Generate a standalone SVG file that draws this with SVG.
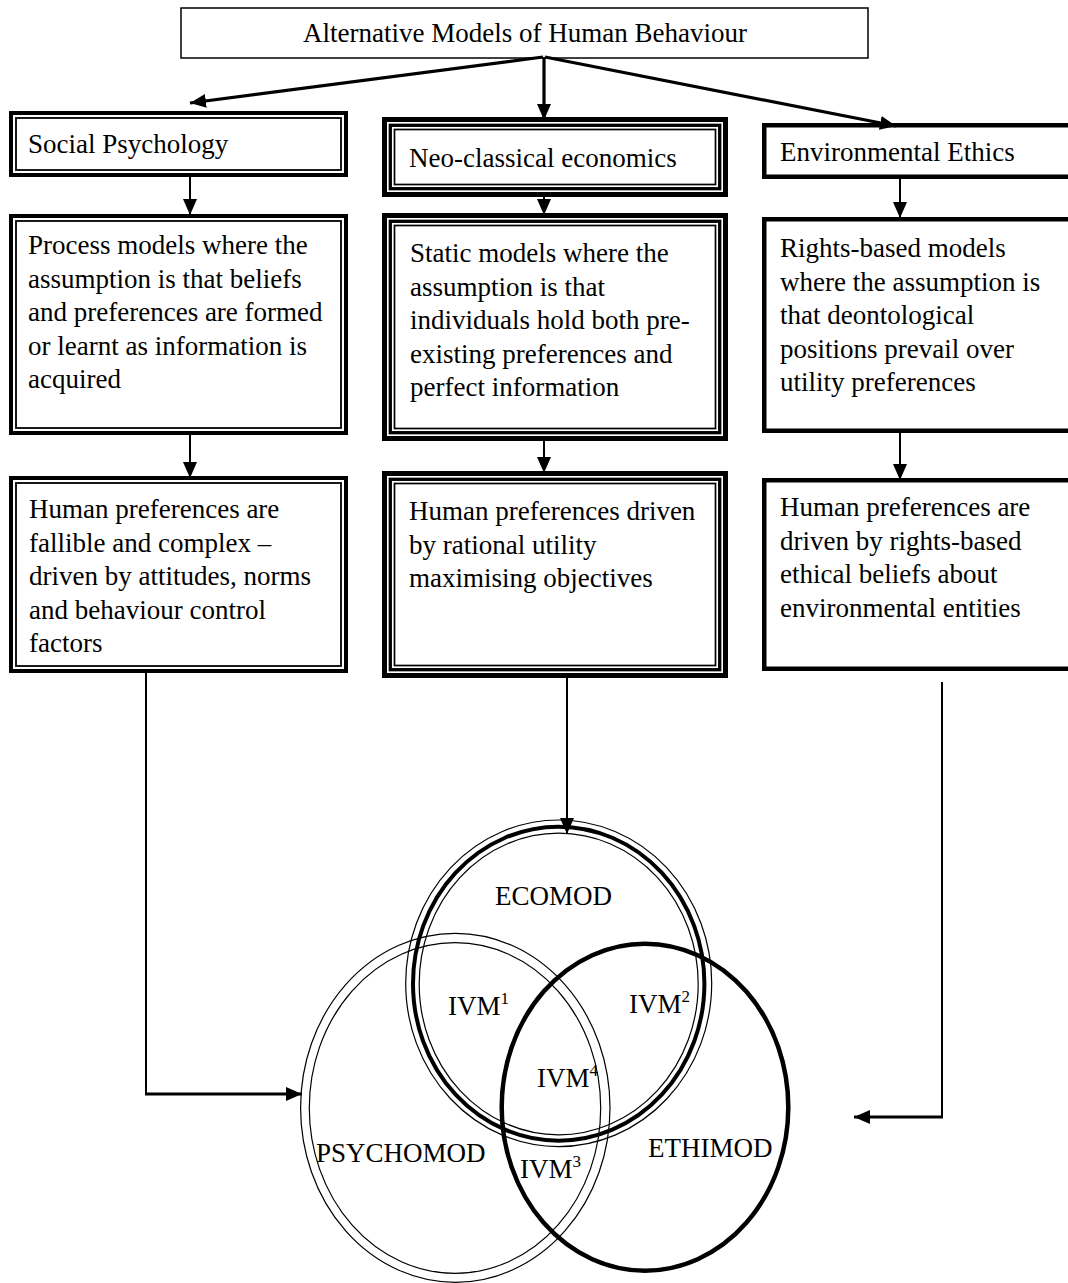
<svg xmlns="http://www.w3.org/2000/svg" width="1068" height="1283" viewBox="0 0 1068 1283">
<style>
text{font-family:"Liberation Serif","Times New Roman",serif;font-size:27px;fill:#000}
.sup{font-size:17px}
.b{fill:#fff;stroke:#000}
.n{fill:none;stroke:#000}
.c{fill:none;stroke:#000;stroke-width:2}
.c3{fill:none;stroke:#000;stroke-width:3.2}
</style>
<defs>
<marker id="ah" markerUnits="userSpaceOnUse" markerWidth="16" markerHeight="14" refX="16" refY="7" orient="auto" viewBox="0 0 16 14">
<path d="M0,0 L16,7 L0,14 z" fill="#000"/>
</marker>
</defs>
<rect x="0" y="0" width="1068" height="1283" fill="#fff"/>

<g id="title">
<rect class="b" x="181" y="8" width="687" height="50" stroke-width="1.5"/>
<text x="303" y="42">Alternative Models of Human Behaviour</text>
</g>

<g id="social-psychology">
<rect class="b" x="11" y="113" width="335" height="62" stroke-width="4"/>
<rect class="n" x="16" y="118" width="325" height="52" stroke-width="1.8"/>
<text x="28" y="153">Social Psychology</text>
</g>
<g id="neo-classical">
<rect class="b" x="384.5" y="119.5" width="341" height="75" stroke-width="5"/>
<rect class="n" x="390.3" y="125.3" width="329.4" height="63.4" stroke-width="3.3"/>
<rect class="n" x="394.5" y="129.5" width="321" height="55" stroke-width="1.7"/>
<text x="409" y="167">Neo-classical economics</text>
</g>
<g id="environmental-ethics">
<rect class="b" x="764.25" y="125.25" width="320" height="51.5" stroke-width="4.5"/>
<text x="780" y="161">Environmental Ethics</text>
</g>

<g id="process-models">
<rect class="b" x="11" y="216" width="335" height="217" stroke-width="4"/>
<rect class="n" x="16" y="221" width="325" height="207" stroke-width="1.8"/>
<text x="28" y="254">Process models where the</text>
<text x="28" y="287.5">assumption is that beliefs</text>
<text x="28" y="321">and preferences are formed</text>
<text x="28" y="354.5">or learnt as information is</text>
<text x="28" y="388">acquired</text>
</g>
<g id="static-models">
<rect class="b" x="384.5" y="215.5" width="341" height="223" stroke-width="5"/>
<rect class="n" x="390.3" y="221.3" width="329.4" height="211.4" stroke-width="3.3"/>
<rect class="n" x="394.5" y="225.5" width="321" height="203" stroke-width="1.7"/>
<text x="410" y="262">Static models where the</text>
<text x="410" y="295.5">assumption is that</text>
<text x="410" y="329">individuals hold both pre-</text>
<text x="410" y="362.5">existing preferences and</text>
<text x="410" y="396">perfect information</text>
</g>
<g id="rights-based-models">
<rect class="b" x="764.25" y="219.25" width="320" height="211.5" stroke-width="4.5"/>
<text x="780" y="257">Rights-based models</text>
<text x="780" y="290.5">where the assumption is</text>
<text x="780" y="324">that deontological</text>
<text x="780" y="357.5">positions prevail over</text>
<text x="780" y="391">utility preferences</text>
</g>

<g id="fallible-preferences">
<rect class="b" x="11" y="478" width="335" height="193" stroke-width="4"/>
<rect class="n" x="16" y="483" width="325" height="183" stroke-width="1.8"/>
<text x="29" y="518">Human preferences are</text>
<text x="29" y="551.5">fallible and complex –</text>
<text x="29" y="585">driven by attitudes, norms</text>
<text x="29" y="618.5">and behaviour control</text>
<text x="29" y="652">factors</text>
</g>
<g id="rational-preferences">
<rect class="b" x="384.5" y="473.5" width="341" height="202" stroke-width="5"/>
<rect class="n" x="390.3" y="479.3" width="329.4" height="190.4" stroke-width="3.3"/>
<rect class="n" x="394.5" y="483.5" width="321" height="182" stroke-width="1.7"/>
<text x="409" y="520">Human preferences driven</text>
<text x="409" y="553.5">by rational utility</text>
<text x="409" y="587">maximising objectives</text>
</g>
<g id="rights-preferences">
<rect class="b" x="764.25" y="480.25" width="320" height="188.5" stroke-width="4.5"/>
<text x="780" y="516">Human preferences are</text>
<text x="780" y="549.5">driven by rights-based</text>
<text x="780" y="583">ethical beliefs about</text>
<text x="780" y="616.5">environmental entities</text>
</g>

<g id="connectors">
<line class="c3" x1="543" y1="57" x2="190" y2="103" marker-end="url(#ah)"/>
<line class="c3" x1="544" y1="57" x2="544" y2="120" marker-end="url(#ah)"/>
<line class="c3" x1="545" y1="57" x2="896" y2="126" marker-end="url(#ah)"/>
<line class="c" x1="190" y1="177" x2="190" y2="215" marker-end="url(#ah)"/>
<line class="c" x1="544" y1="197" x2="544" y2="215" marker-end="url(#ah)"/>
<line class="c" x1="900" y1="179" x2="900" y2="218" marker-end="url(#ah)"/>
<line class="c" x1="190" y1="435" x2="190" y2="478" marker-end="url(#ah)"/>
<line class="c" x1="544" y1="441" x2="544" y2="473" marker-end="url(#ah)"/>
<line class="c" x1="900" y1="433" x2="900" y2="480" marker-end="url(#ah)"/>
<polyline class="c" points="146,673 146,1094"/>
<line class="c3" x1="145" y1="1094" x2="302" y2="1094" marker-end="url(#ah)"/>
<line class="c" x1="567" y1="678" x2="567" y2="834" marker-end="url(#ah)"/>
<polyline class="c" points="942,682 942,1117"/>
<line class="c3" x1="943" y1="1117" x2="854" y2="1117" marker-end="url(#ah)"/>
</g>

<g id="ecomod">
<ellipse class="n" cx="558.7" cy="983.3" rx="153" ry="163.3" stroke-width="1.2"/>
<ellipse class="n" cx="558.7" cy="983.7" rx="145.7" ry="157" stroke-width="4"/>
<ellipse class="n" cx="558.7" cy="984" rx="139.5" ry="150.8" stroke-width="1.2"/>
<text x="495" y="905">ECOMOD</text>
</g>
<g id="psychomod">
<ellipse class="n" cx="455.3" cy="1107.8" rx="154.7" ry="174.5" stroke-width="1.2"/>
<ellipse class="n" cx="455" cy="1108" rx="145.7" ry="165.3" stroke-width="1.2"/>
<text x="316" y="1162">PSYCHOMOD</text>
</g>
<g id="ethimod">
<ellipse class="n" cx="645" cy="1107.2" rx="143.3" ry="163.5" stroke-width="4.5"/>
<text x="648" y="1157">ETHIMOD</text>
</g>
<g id="intersections">
<text x="448" y="1015">IVM<tspan class="sup" dy="-11">1</tspan></text>
<text x="629" y="1013">IVM<tspan class="sup" dy="-11">2</tspan></text>
<text x="537" y="1087">IVM<tspan class="sup" dy="-11">4</tspan></text>
<text x="520" y="1178">IVM<tspan class="sup" dy="-11">3</tspan></text>
</g>
</svg>
